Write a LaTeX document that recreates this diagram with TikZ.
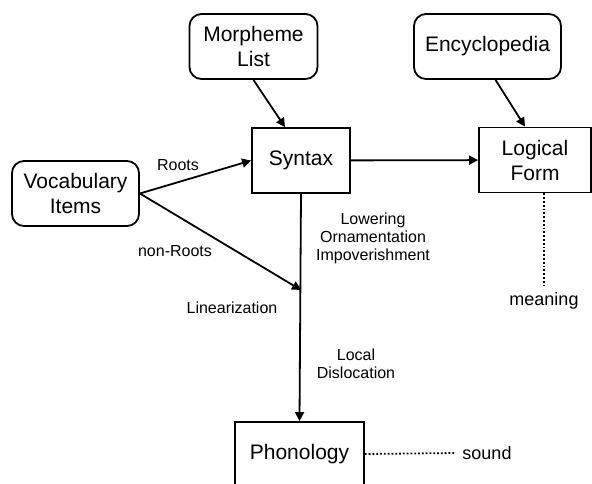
\documentclass[tikz,border=0pt]{standalone}
\usepackage{fontspec}
\setmainfont{Liberation Sans}
\usetikzlibrary{arrows.meta}

\tikzset{
  module/.style={draw,line width=1.8pt,inner sep=0pt,align=center,
    font=\fontsize{21}{25}\selectfont},
  list/.style={module,rounded corners=12pt},
  step label/.style={align=center,font=\fontsize{16}{18}\selectfont},
  outcome/.style={font=\fontsize{18}{21}\selectfont}
}

\begin{document}
\begin{tikzpicture}[x=1pt,y=-1pt,->,>={Triangle[length=9pt,width=9pt]},
    line width=1.8pt]
  \clip (0,0) rectangle (592,483);
  \useasboundingbox (0,0) rectangle (592,483);

  \node[list,minimum width=128pt,minimum height=65pt] (morph) at (253.5,46.5) {Morpheme\\List};
  \node[list,minimum width=147pt,minimum height=65pt] (ency) at (487.5,46.5) {Encyclopedia};
  \node[list,minimum width=127pt,minimum height=65pt] (vocab) at (75.5,193.5) {Vocabulary\\Items};

  \node[module,minimum width=98pt,minimum height=65pt] (syn) at (301,160.5) {Syntax};
  \node[module,minimum width=112pt,minimum height=65pt] (lf) at (535,160) {Logical\\Form};
  \node[module,minimum width=129pt,minimum height=64pt] (phon) at (299.5,454) {Phonology};

  \node[outcome] (meaning) at (544,301) {meaning};
  \node[outcome] (sound) at (487,453) {sound};
  \coordinate (lin) at (301,290);

  % lists into syntax and LF
  \draw (morph.south) -- ([xshift=-16pt]syn.north);
  \draw ([xshift=8pt]ency.south) -- ([xshift=-10pt]lf.north);
  \draw (vocab.east) -- (syn.west);
  \draw (vocab.east) -- (lin);
  \draw (syn) -- (lf);
  \draw (syn.south) -- (phon.north);

  % interfaces
  \draw[-,dotted] ([xshift=9pt]lf.south) -- (meaning.north);
  \draw[-,dotted] (phon.east) -- ([xshift=-3pt]sound.west);

  % operations
  \node[step label] (roots) at (178,165) {Roots};
  \node[step label] (nonroots) at (175,251) {non-Roots};
  \node[step label] (linz) at (232,308) {Linearization};
  \node[step label] (ops) at (373,238) {Lowering\\Ornamentation\\Impoverishment};
  \node[step label] (disl) at (356,364) {Local\\Dislocation};
\end{tikzpicture}
\end{document}
